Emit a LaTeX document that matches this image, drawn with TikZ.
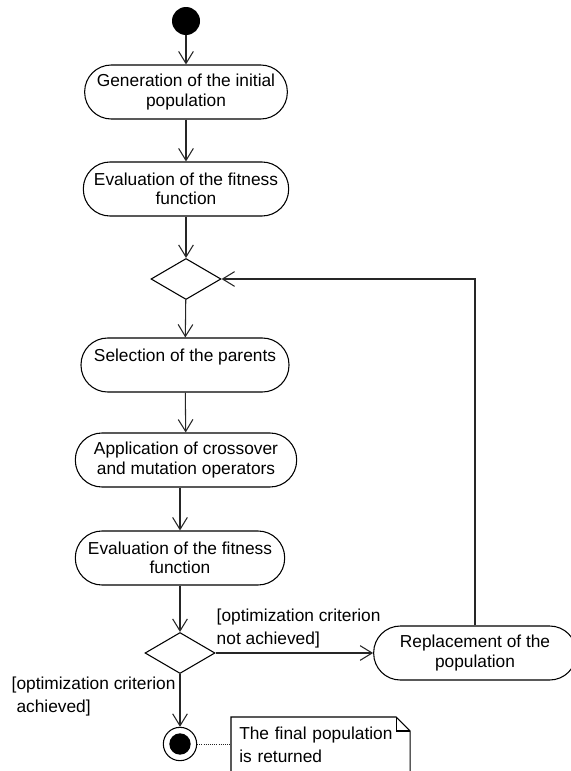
\documentclass[tikz,border=0pt]{standalone}
\usepackage{fontspec}
\setmainfont{Liberation Sans}
\usetikzlibrary{arrows.meta, positioning, shapes.geometric}
\tikzset{
  action/.style={
    rectangle, rounded corners=20pt,
    draw=black, line width=0.8pt,
    align=center, font=\fontsize{13}{14.5}\selectfont,
    minimum height=40.5pt, inner sep=2pt
  },
  decision/.style={
    diamond, draw=black, line width=0.8pt,
    minimum width=52.5pt, minimum height=30.75pt, inner sep=0pt
  },
  initial/.style={circle, fill=black, minimum size=21pt, inner sep=0pt},
  finalnode/.style={
    circle, draw=black, line width=0.8pt, minimum size=25pt, inner sep=0pt,
    path picture={\fill[black] (path picture bounding box.center) circle (8pt);}
  },
  guard/.style={align=left, font=\fontsize{13}{17.25}\selectfont},
  notebox/.style={
    align=left, font=\fontsize{13}{17.25}\selectfont,
    text width=122pt, inner xsep=6pt, inner ysep=7.5pt, anchor=north west
  },
  flow/.style={draw=black!85, line width=0.8pt, -{Straight Barb[length=9pt,width=11pt]}},
  notelink/.style={draw=black!85, densely dotted, line width=0.6pt}
}

\begin{document}
\begin{tikzpicture}[x=0.75pt, y=-0.75pt]
\useasboundingbox (0,0) rectangle (571,771);
% Start
\node[initial] (start) at (186,21) {};
% Initialisation
\node[action, minimum width=152pt] (gen)   at (186,92)  {Generation of the initial\\population};
\node[action, minimum width=154pt] (eval1) at (186,189) {Evaluation of the fitness\\function};
\node[decision] (dec1) at (186,279) {};
% Generation loop
\node[action, minimum width=156pt] (sel)   at (185,365) {Selection of the parents\\~};
\node[action, minimum width=166pt] (app)   at (186,460) {Application of crossover\\and mutation operators};
\node[action, minimum width=157pt] (eval2) at (180,558) {Evaluation of the fitness\\function};
\node[decision] (dec2) at (180,653) {};
\node[action, minimum width=152pt] (repl)  at (475,653) {Replacement of the\\population};
% End
\node[finalnode] (final) at (180,744) {};
\node[notebox] (note) at (231,717) {The final population\\is returned};
\draw[line width=0.8pt] (note.north west) -- ([xshift=-10.5pt]note.north east)
  -- ([yshift=-10.5pt]note.north east) -- ([yshift=-15pt]note.south east)
  -- ([yshift=-15pt]note.south west) -- cycle;
\draw[line width=0.8pt] ([xshift=-10.5pt]note.north east) |- ([yshift=-10.5pt]note.north east);
% Connections
\draw[flow] (start) -- (gen);
\draw[flow] (gen) -- (eval1);
\draw[flow] (eval1) -- (dec1);
\draw[flow] (dec1) -- (sel);
\draw[flow] (sel) -- (app);
\draw[flow] (eval2.north |- app.south) -- (eval2.north);
\draw[flow] (eval2) -- (dec2);
\draw[flow] (dec2) -- node[guard, pos=0, anchor=south west, inner xsep=0.5pt, inner ysep=3pt]
  {[optimization criterion\\not achieved]} (repl);
\draw[flow] (dec2) -- node[guard, pos=0, anchor=north east, inner xsep=3pt, inner ysep=1.5pt]
  {[optimization criterion\\\ achieved]} (final);
\draw[flow] (repl.north) |- (dec1.east);
\draw[notelink] (final) -- (final -| note.west);
\end{tikzpicture}
\end{document}
